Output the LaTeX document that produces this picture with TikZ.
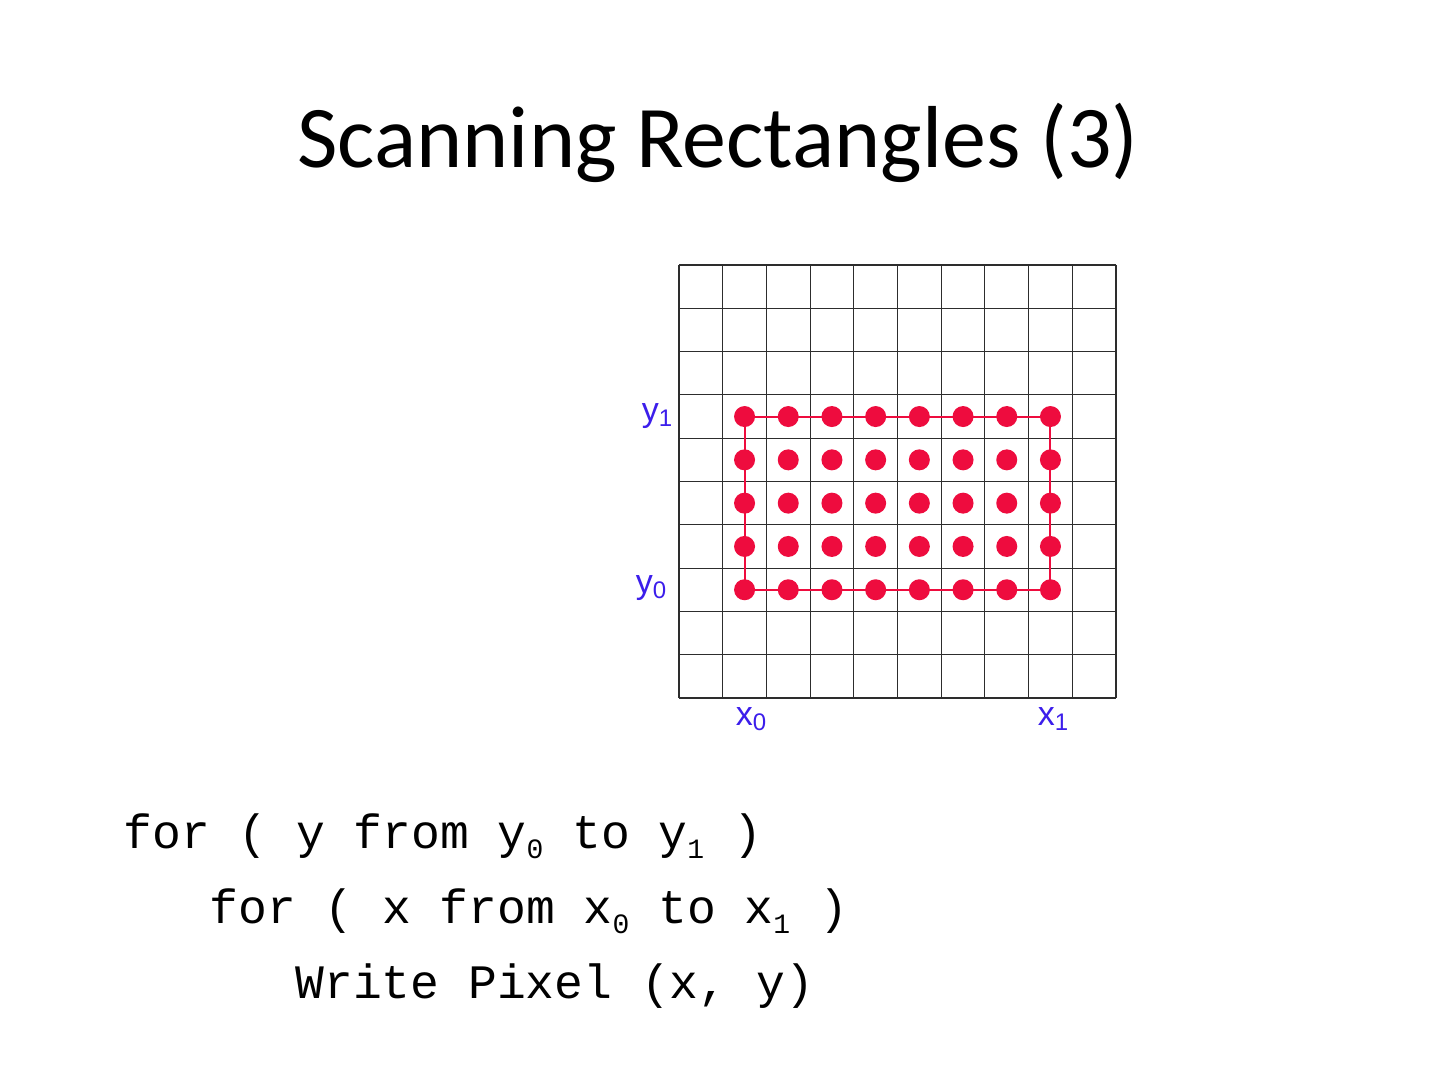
\documentclass[tikz,border=0pt]{standalone}
\usepackage{fontspec}
\setmainfont{Carlito}
\newfontfamily\codefont{Liberation Mono}
\newfontfamily\labfont{Liberation Sans}
\definecolor{dotred}{RGB}{238,12,62}
\definecolor{labblue}{RGB}{60,30,235}
\definecolor{gridgray}{RGB}{45,45,45}
\tikzset{
  dotnode/.style={circle,fill=dotred,inner sep=0pt,minimum size=10.5pt},
  gridline/.style={draw=gridgray,line width=0.55pt},
  redline/.style={draw=dotred,line width=1pt},
  lab/.style={text=labblue,font=\labfont\fontsize{17}{17}\selectfont,inner sep=0pt,anchor=base},
  codeline/.style={font=\codefont\fontsize{24}{24}\selectfont,inner sep=0pt,anchor=base west},
  titlenode/.style={font=\fontsize{44}{44}\selectfont,inner sep=0pt,anchor=base}
}
\newcommand{\labsub}[1]{\raisebox{-2.5pt}{\fontsize{12}{12}\selectfont #1}}
\newcommand{\codesub}[1]{\raisebox{-5pt}{\fontsize{14}{14}\selectfont #1}}
\begin{document}
\begin{tikzpicture}[x=0.5pt,y=-0.5pt]
\useasboundingbox (0,0) rectangle (1440,1080);
\fill[white] (0,0) rectangle (1440,1080);
% title
\node[titlenode] (title) at (718,168) {Scanning Rectangles (3)};
% grid
\foreach \i in {0,...,10} {
  \draw[gridline] ({679+43.7*\i},265) -- ({679+43.7*\i},698);
  \draw[gridline] (679,{265+43.3*\i}) -- (1116,{265+43.3*\i});
}
% dots
\foreach \i in {1,...,8} {
  \foreach \j in {3,...,7} {
    \node[dotnode] (d-\i-\j) at ({679+43.7*(\i+0.5)},{265+43.3*(\j+0.5)}) {};
  }
}
\draw[redline] (d-1-3.center) -- (d-8-3.center) -- (d-8-7.center) -- (d-1-7.center) -- cycle;
% labels
\node[lab] (ly1) at (657,422) {y\labsub{1}};
\node[lab] (ly0) at (651,593) {y\labsub{0}};
\node[lab] (lx0) at (751,725) {x\labsub{0}};
\node[lab] (lx1) at (1053,725) {x\labsub{1}};
% code
\node[codeline] (c1) at (123,848) {for ( y from y\codesub{0} to y\codesub{1} )};
\node[codeline] (c2) at (209,923) {for ( x from x\codesub{0} to x\codesub{1} )};
\node[codeline] (c3) at (295,998) {Write Pixel (x, y)};
\end{tikzpicture}
\end{document}
